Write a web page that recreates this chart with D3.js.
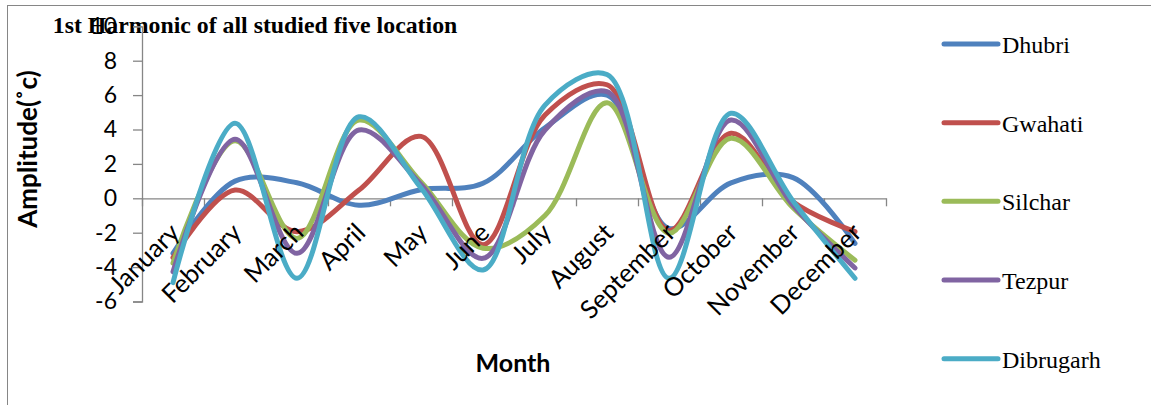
<!DOCTYPE html>
<html>
<head>
<meta charset="utf-8">
<script src="https://cdn.jsdelivr.net/npm/d3@7"></script>
<style>
  html, body { margin: 0; padding: 0; background: #ffffff; }
  svg { display: block; }
</style>
</head>
<body>
<svg id="chart" width="1151" height="405"></svg>
<script>
const months = ["January","February","March","April","May","June","July","August","September","October","November","December"];
const seriesNames = ["Dhubri","Gwahati","Silchar","Tezpur","Dibrugarh"];
const dhubri    = [-3.2, 1.0, 0.9, -0.4, 0.5, 0.87, 4.1, 6.0, -1.75, 0.9, 1.2, -2.62];
const gwahati   = [-3.45, 0.48, -1.94, 0.48, 3.6, -2.7, 4.84, 6.6, -1.88, 3.78, -0.2, -1.94];
const silchar   = [-3.77, 3.35, -2.33, 4.55, 0.95, -2.9, -1.0, 5.55, -2.03, 3.49, -0.55, -3.6];
const tezpur    = [-4.27, 3.43, -3.2, 3.97, 0.8, -3.49, 3.97, 6.2, -3.43, 4.55, -0.4, -4.05];
const dibrugarh = [-4.9, 4.36, -4.65, 4.74, 0.6, -4.17, 5.42, 7.2, -4.65, 4.94, -0.15, -4.65];
const yTicks = [-6, -4, -2, 0, 2, 4, 6, 8, 10];
const colors = ["#4F81BD", "#C0504D", "#9BBB59", "#8064A2", "#4BACC6"];
const titleText = "1st Harmonic of all studied five location";
const yTitle = "Amplitude(˚c)";
const xTitle = "Month";

const allSeries = [dhubri, gwahati, silchar, tezpur, dibrugarh];

const svg = d3.select("#chart");
const axisColor = "#868686";

// outer frame
svg.append("rect")
  .attr("x", 7.5).attr("y", 5.5)
  .attr("width", 1160).attr("height", 420)
  .attr("fill", "none").attr("stroke", axisColor).attr("stroke-width", 1);

const left = 142, right = 886;
const x = d3.scaleBand().domain(months).range([left, right]).paddingInner(0).paddingOuter(0);
const xIdx = d3.scaleLinear().domain([0, months.length]).range([left, right]);
const y = d3.scaleLinear().domain([-6, 10]).range([301.5, 26.3]);
const cx = m => x(m) + x.bandwidth() / 2;

// title
svg.append("text")
  .attr("x", 255).attr("y", 32.5).attr("text-anchor", "middle")
  .style("font-family", "'Liberation Serif', 'Times New Roman', serif")
  .style("font-weight", "bold").style("font-size", "23.8px")
  .attr("fill", "#000").text(titleText);

// Y axis
const yAxis = d3.axisLeft(y).tickValues(yTicks).tickSize(9).tickPadding(16).tickFormat(d3.format("d"));
const gy = svg.append("g").attr("transform", `translate(${left},0)`).call(yAxis);
gy.select(".domain").attr("stroke", axisColor).attr("stroke-width", 1.3);
gy.selectAll(".tick line").attr("stroke", axisColor).attr("stroke-width", 1.3);
gy.selectAll(".tick text")
  .attr("fill", "#000").style("font-family", "Lato, 'Open Sans', sans-serif").style("font-size", "23px")
  .text(d => d < 0 ? "-" + Math.abs(d) : d);

// X axis at zero
const xAxis = d3.axisBottom(xIdx).tickValues(d3.range(0, months.length + 1)).tickSize(8).tickSizeOuter(0).tickFormat("");
const gx = svg.append("g").attr("transform", `translate(0,${y(0)})`).call(xAxis);
gx.select(".domain").attr("stroke", axisColor).attr("stroke-width", 1.3);
gx.selectAll(".tick line").attr("stroke", axisColor).attr("stroke-width", 1.3);

// lines
const line = d3.line()
  .x((d, i) => cx(months[i]))
  .y(d => y(d))
  .curve(d3.curveCatmullRom.alpha(0.5));

svg.append("g").selectAll("path").data(allSeries).join("path")
  .attr("d", d => line(d))
  .attr("fill", "none")
  .attr("stroke", (d, i) => colors[i])
  .attr("stroke-width", 5)
  .attr("stroke-linecap", "round")
  .attr("stroke-linejoin", "round");

// month labels (drawn over the lines)
svg.append("g").selectAll("text").data(months).join("text")
  .attr("transform", d => `translate(${cx(d) + 8},${y(0) + 36}) rotate(-45)`)
  .attr("text-anchor", "end")
  .style("font-family", "Lato, 'Open Sans', sans-serif").style("font-size", "25.5px")
  .attr("fill", "#000")
  .text(d => d);

// axis titles
svg.append("text")
  .attr("transform", "translate(37,149) rotate(-90)")
  .attr("text-anchor", "middle")
  .style("font-family", "Lato, 'Open Sans', sans-serif").style("font-weight", "bold").style("font-size", "26px")
  .attr("fill", "#000").text(yTitle);

svg.append("text")
  .attr("x", 513).attr("y", 372).attr("text-anchor", "middle")
  .style("font-family", "Lato, 'Open Sans', sans-serif").style("font-weight", "bold").style("font-size", "25px")
  .attr("fill", "#000").text(xTitle);

// legend
const legendY = d3.scaleLinear().domain([0, seriesNames.length - 1]).range([44, 358.7]);
const lg = svg.append("g").selectAll("g").data(seriesNames).join("g")
  .attr("transform", (d, i) => `translate(0,${legendY(i)})`);
lg.append("line")
  .attr("x1", 944).attr("x2", 998).attr("y1", 0).attr("y2", 0)
  .attr("stroke", (d, i) => colors[i]).attr("stroke-width", 5).attr("stroke-linecap", "round");
lg.append("text")
  .attr("x", 1002).attr("y", 9)
  .style("font-family", "'Liberation Serif', 'Times New Roman', serif").style("font-size", "24px")
  .attr("fill", "#000").text(d => d);
</script>
</body>
</html>
